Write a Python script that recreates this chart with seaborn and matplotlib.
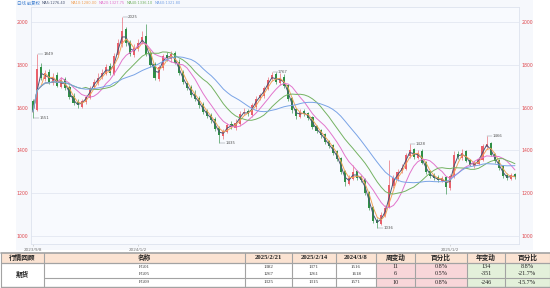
import numpy as np
import pandas as pd
import matplotlib
matplotlib.use("Agg")
import matplotlib.pyplot as plt
import seaborn as sns
from matplotlib.patches import Rectangle

# ---------------- data ----------------
opens = [
    1630, 1590, 1790, 1735, 1765, 1715, 1750, 1695, 1735, 1695,
    1655, 1625, 1605, 1625, 1645, 1695, 1715, 1745, 1755, 1795,
    1755, 1845, 1895, 1965, 1905, 1845, 1875, 1905, 1935, 1855,
    1805, 1735, 1785, 1845, 1825, 1855, 1815, 1765, 1715, 1695,
    1665, 1645, 1615, 1585, 1565, 1545, 1505, 1465, 1485, 1525,
    1505, 1525, 1575, 1585, 1565, 1605, 1645, 1655, 1685, 1735,
    1755, 1715, 1745, 1705, 1645, 1595, 1555, 1585, 1575, 1555,
    1515, 1495, 1475, 1445, 1425, 1395, 1365, 1305, 1245, 1265,
    1305, 1275, 1265, 1205, 1135, 1075, 1055, 1095, 1135, 1235,
    1265, 1305, 1315, 1375, 1405, 1365, 1395, 1345, 1305, 1285,
    1275, 1255, 1275, 1225, 1275, 1385, 1365, 1395, 1355, 1325,
    1335, 1355, 1415, 1435, 1385, 1355, 1325, 1285, 1265, 1290]
highs = [
    1640, 1849, 1810, 1775, 1780, 1760, 1765, 1745, 1745, 1705,
    1670, 1640, 1640, 1660, 1700, 1735, 1760, 1780, 1805, 1810,
    1855, 1920, 2025, 1975, 1915, 1895, 1920, 1960, 1990, 1870,
    1815, 1800, 1850, 1860, 1865, 1865, 1825, 1775, 1725, 1705,
    1680, 1655, 1625, 1595, 1575, 1555, 1515, 1500, 1530, 1535,
    1545, 1585, 1600, 1595, 1620, 1655, 1670, 1700, 1745, 1767,
    1765, 1760, 1755, 1710, 1650, 1600, 1595, 1595, 1580, 1560,
    1520, 1500, 1480, 1450, 1430, 1400, 1370, 1310, 1285, 1332,
    1310, 1285, 1270, 1210, 1140, 1085, 1110, 1145, 1355, 1285,
    1315, 1335, 1390, 1428, 1410, 1400, 1405, 1350, 1310, 1295,
    1285, 1280, 1280, 1290, 1395, 1395, 1405, 1400, 1360, 1350,
    1370, 1430, 1466, 1440, 1390, 1360, 1330, 1295, 1295, 1295]
lows = [
    1551, 1585, 1730, 1725, 1710, 1705, 1695, 1690, 1680, 1640,
    1610, 1600, 1600, 1615, 1640, 1685, 1705, 1735, 1750, 1750,
    1750, 1835, 1885, 1890, 1840, 1835, 1865, 1895, 1840, 1790,
    1729, 1725, 1775, 1820, 1815, 1805, 1750, 1710, 1680, 1650,
    1630, 1600, 1570, 1550, 1530, 1490, 1435, 1455, 1480, 1500,
    1495, 1515, 1565, 1560, 1555, 1595, 1635, 1645, 1680, 1725,
    1710, 1705, 1690, 1630, 1575, 1545, 1550, 1560, 1540, 1500,
    1480, 1460, 1430, 1410, 1380, 1350, 1290, 1235, 1240, 1260,
    1260, 1250, 1190, 1120, 1060, 1036, 1050, 1090, 1130, 1225,
    1255, 1295, 1310, 1365, 1360, 1360, 1335, 1290, 1270, 1260,
    1250, 1250, 1195, 1215, 1270, 1360, 1355, 1345, 1325, 1320,
    1330, 1350, 1405, 1375, 1340, 1310, 1270, 1260, 1260, 1265]
closes = [
    1580, 1780, 1740, 1760, 1720, 1745, 1700, 1730, 1690, 1650,
    1620, 1610, 1630, 1650, 1690, 1720, 1740, 1760, 1790, 1760,
    1840, 1900, 1960, 1900, 1850, 1880, 1900, 1930, 1850, 1800,
    1740, 1790, 1840, 1830, 1850, 1810, 1760, 1720, 1690, 1660,
    1640, 1610, 1580, 1560, 1540, 1500, 1470, 1490, 1520, 1510,
    1530, 1570, 1580, 1570, 1610, 1640, 1660, 1690, 1730, 1750,
    1720, 1740, 1700, 1640, 1590, 1560, 1580, 1570, 1550, 1510,
    1490, 1470, 1440, 1420, 1390, 1360, 1300, 1250, 1270, 1300,
    1270, 1260, 1200, 1130, 1070, 1060, 1100, 1130, 1240, 1270,
    1300, 1320, 1380, 1400, 1370, 1390, 1340, 1300, 1280, 1270,
    1260, 1270, 1230, 1280, 1380, 1370, 1390, 1350, 1330, 1340,
    1360, 1420, 1430, 1380, 1350, 1320, 1280, 1270, 1285, 1276]

ma_names = ["MA5", "MA10", "MA20", "MA40", "MA60"]
ma_windows = [2, 3, 7, 13, 20]          # in compressed candles
ma_labels = ["MA5:1276.40", "MA10:1280.00", "MA20:1327.75",
             "MA40:1336.10", "MA60:1321.80"]
ma_colors = ["#4a5674", "#f2a35a", "#e274cc", "#74b262", "#79a3e6"]

y_ticks = [1000, 1200, 1400, 1600, 1800, 2000]
x_tick_pos = [0, 26, 103]
x_tick_labels = ["2023/9/8", "2024/1/2", "2025/1/2"]
mark_high = [1, 22, 59, 93, 112]
mark_low = [0, 46, 85]
event_labels = ["春节2024", "劳动节2024", "国庆2024", "春节2025"]

tbl_header = ["行情回顾", "名称", "2025/2/21", "2025/2/14", "2024/3/8",
              "周变动", "百分比", "年变动", "百分比"]
tbl_group = "期货"
names = ["FG01", "FG05", "FG09"]
price_now = [1382, 1267, 1325]
price_wk = [1371, 1261, 1315]
price_yr = [1516, 1618, 1571]
wk_chg = ["11", "6", "10"]
wk_pct = ["0.8%", "0.5%", "0.8%"]
yr_chg = ["134", "-351", "-246"]
yr_pct = ["8.8%", "-21.7%", "-15.7%"]

# ---------------- style ----------------
sns.set_theme(style="white")
plt.rcParams["font.family"] = ["DejaVu Sans", "Noto Sans CJK SC"]
CJK = ["Noto Sans CJK SC", "DejaVu Sans"]
SER = ["Liberation Serif", "Noto Sans CJK SC"]

W, H = 550, 288
fig = plt.figure(figsize=(5.5, 2.88), dpi=100)
fig.patch.set_facecolor("white")

bg = fig.add_axes([0, 0, 1, 1], zorder=0)
bg.set_xlim(0, W)
bg.set_ylim(H, 0)
bg.axis("off")
bg.add_patch(Rectangle((16, 0), 517, 250, facecolor="#f6f8fc", edgecolor="none"))


def px_axes(x0, y0, x1, y1, **kw):
    return fig.add_axes([x0 / W, 1 - y1 / H, (x1 - x0) / W, (y1 - y0) / H], **kw)


ax = px_axes(31, 7, 519, 244, zorder=2)
ax.set_facecolor("#f8fafe")

n = len(closes)
idx = np.arange(n)
df = pd.DataFrame({"i": idx, "open": opens, "high": highs, "low": lows, "close": closes})
up = df["close"] >= df["open"]
col = np.where(up, "#e9606b", "#2f8f46")

ax.vlines(df["i"], df["low"], df["high"], colors=col, linewidth=0.45, zorder=3)
body_h = np.maximum((df["close"] - df["open"]).abs(), 3)
ax.bar(df["i"], body_h, bottom=np.minimum(df["open"], df["close"]), width=0.52,
       color=col, linewidth=0, zorder=4)

ma_frames = []
for name, w in zip(ma_names, ma_windows):
    ma_frames.append(pd.DataFrame({"i": idx, "ma": name,
                                   "v": df["close"].rolling(w, min_periods=1).mean()}))
ma_long = pd.concat(ma_frames, ignore_index=True)
sns.lineplot(data=ma_long, x="i", y="v", hue="ma", hue_order=ma_names,
             palette=dict(zip(ma_names, ma_colors)), linewidth=0.7,
             legend=False, ax=ax, zorder=5)

for i in mark_high:
    v = highs[i]
    ax.plot([i + 0.2, i + 1.4], [v, v], color="#8a8f99", lw=0.35, zorder=6)
    ax.text(i + 1.5, v, str(v), fontsize=2.8, va="center", ha="left", color="#555", zorder=6)
for i in mark_low:
    v = lows[i]
    ax.plot([i + 0.2, i + 1.4], [v, v], color="#8a8f99", lw=0.35, zorder=6)
    ax.text(i + 1.5, v, str(v), fontsize=2.8, va="center", ha="left", color="#555", zorder=6)

ax.set_xlim(-0.5, n)
ax.set_ylim(962.6, 2070)
ax.set_yticks(y_ticks)
ax.set_yticklabels([str(t) for t in y_ticks])
ax.yaxis.grid(True, color="#e3e8f2", linewidth=0.6)
ax.xaxis.grid(False)
ax.tick_params(axis="y", labelsize=3.3, labelcolor="#e0474c", length=0, pad=2,
               labelleft=True, labelright=True)
ax.set_xticks(x_tick_pos)
ax.set_xticklabels(x_tick_labels)
ax.tick_params(axis="x", labelsize=3, labelcolor="#777777", length=1.5, width=0.4,
               color="#bbbbbb", pad=1.2, bottom=True)
ax.set_xlabel("")
ax.set_ylabel("")
for s in ax.spines.values():
    s.set_color("#dde3ee")
    s.set_linewidth(0.6)

# header legend
bg.text(17, 3.2, "日线 前复权", fontsize=3.2, color="#3f7fd0", va="center", family=CJK)
legend_x = [42, 71, 99, 127, 155]
for x, lab, c in zip(legend_x, ma_labels, ma_colors):
    bg.text(x, 3.2, lab, fontsize=2.6, color=c, va="center")

# event markers in the bottom strip
ev_x = [117, 218, 335, 433]
for k, (x, lab) in enumerate(zip(ev_x, event_labels)):
    c = "#f0a050" if k == len(ev_x) - 1 else "#666666"
    bg.add_patch(Rectangle((x, 238.6), 23, 4.6, facecolor="#eef1f7",
                           edgecolor="#d3d9e4", lw=0.3, zorder=3))
    bg.plot([x + 0.8, x + 0.8], [239, 242.8], color="#9aa4b8", lw=0.5, zorder=4)
    bg.text(x + 2.5, 241, lab, fontsize=2.6, color=c, va="center", family=CJK, zorder=4)

# ---------------- table ----------------
cols = [0.5, 44, 245, 292, 336, 376, 415, 467, 505, 549.5]
rows = [252.5, 263, 270.2, 277.5, 286.5]
line_c = "#a3a3a3"
peach, pink, green = "#fbe3d2", "#f8d6d9", "#e3f0da"

for c0, c1 in zip(cols[:-1], cols[1:]):
    bg.add_patch(Rectangle((c0, rows[0]), c1 - c0, rows[1] - rows[0],
                           facecolor=peach, edgecolor="none"))
for r in range(3):
    y0, y1 = rows[r + 1], rows[r + 2]
    for k in (5, 6):
        bg.add_patch(Rectangle((cols[k], y0), cols[k + 1] - cols[k], y1 - y0,
                               facecolor=pink, edgecolor="none"))
    for k in (7, 8):
        bg.add_patch(Rectangle((cols[k], y0), cols[k + 1] - cols[k], y1 - y0,
                               facecolor=green, edgecolor="none"))

for x in cols:
    bg.plot([x, x], [rows[0], rows[-1]], color=line_c, lw=0.8)
bg.plot([cols[0], cols[-1]], [rows[0], rows[0]], color=line_c, lw=1.2)
bg.plot([cols[0], cols[-1]], [rows[1], rows[1]], color=line_c, lw=0.9)
bg.plot([cols[1], cols[-1]], [rows[3], rows[3]], color=line_c, lw=0.8)
bg.plot([cols[0], cols[-1]], [rows[-1], rows[-1]], color=line_c, lw=1.0)

hy = (rows[0] + rows[1]) / 2
for k, lab in enumerate(tbl_header):
    xc = (cols[k] + cols[k + 1]) / 2
    bg.text(xc, hy, lab, fontsize=4.8, ha="center", va="center", color="#222",
            family=SER, fontweight="bold")

bg.text((cols[0] + cols[1]) / 2, (rows[1] + rows[-1]) / 2, tbl_group, fontsize=4.8,
        ha="center", va="center", color="#222", family=CJK, fontweight="bold")

for r in range(3):
    yc = (rows[r + 1] + rows[r + 2]) / 2
    vals = [names[r], str(price_now[r]), str(price_wk[r]), str(price_yr[r])]
    for k, v in enumerate(vals):
        xc = (cols[k + 1] + cols[k + 2]) / 2
        bg.text(xc, yc, v, fontsize=3.5, ha="center", va="center", color="#333", family=SER)
    big = [wk_chg[r], wk_pct[r], yr_chg[r], yr_pct[r]]
    for k, v in enumerate(big):
        xc = (cols[k + 5] + cols[k + 6]) / 2
        bg.text(xc, yc, v, fontsize=4.4, ha="center", va="center", color="#222", family=SER)

fig.savefig("out.png", dpi=100)
